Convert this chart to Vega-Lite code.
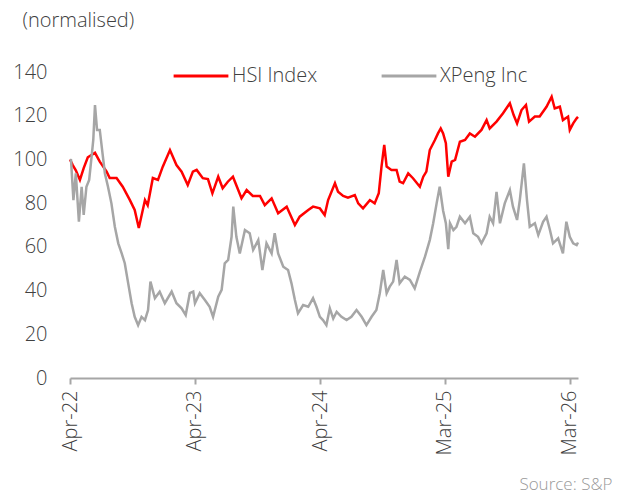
{
  "$schema": "https://vega.github.io/schema/vega-lite/v6.json",
  "width": 508,
  "height": 306,
  "autosize": {"type": "none"},
  "padding": {"left": 70, "top": 72, "right": 49, "bottom": 116},
  "background": "white",
  "config": {
    "font": "Open Sans",
    "view": {"stroke": null},
    "axis": {"labelFont": "Open Sans", "titleFont": "Open Sans", "labelColor": "#404040", "grid": false, "labelFontWeight": 300, "titleFontWeight": 300},
    "legend": {"labelFont": "Open Sans", "labelFontWeight": 300}
  },
  "data": {"values": [
    {"d":"2022-04-01","s":"HSI Index","v":100},{"d":"2022-04-09","s":"HSI Index","v":97.4},{"d":"2022-04-18","s":"HSI Index","v":95},{"d":"2022-04-30","s":"HSI Index","v":90.6},{"d":"2022-05-11","s":"HSI Index","v":96},{"d":"2022-05-23","s":"HSI Index","v":101},{"d":"2022-06-13","s":"HSI Index","v":103},{"d":"2022-06-27","s":"HSI Index","v":99},{"d":"2022-07-17","s":"HSI Index","v":94.4},{"d":"2022-07-26","s":"HSI Index","v":91.5},{"d":"2022-08-15","s":"HSI Index","v":91.5},{"d":"2022-09-02","s":"HSI Index","v":87.5},{"d":"2022-09-23","s":"HSI Index","v":81.4},{"d":"2022-10-07","s":"HSI Index","v":76.9},{"d":"2022-10-19","s":"HSI Index","v":68.6},{"d":"2022-11-06","s":"HSI Index","v":81.4},{"d":"2022-11-14","s":"HSI Index","v":79},{"d":"2022-11-29","s":"HSI Index","v":91.5},{"d":"2022-12-14","s":"HSI Index","v":90.6},{"d":"2022-12-28","s":"HSI Index","v":96.7},{"d":"2023-01-18","s":"HSI Index","v":104.3},{"d":"2023-02-06","s":"HSI Index","v":97.4},{"d":"2023-02-21","s":"HSI Index","v":94.4},{"d":"2023-03-11","s":"HSI Index","v":88.3},{"d":"2023-03-26","s":"HSI Index","v":94.4},{"d":"2023-04-06","s":"HSI Index","v":95.2},{"d":"2023-04-24","s":"HSI Index","v":91.4},{"d":"2023-05-09","s":"HSI Index","v":91},{"d":"2023-05-22","s":"HSI Index","v":84.5},{"d":"2023-06-08","s":"HSI Index","v":92.1},{"d":"2023-06-21","s":"HSI Index","v":86.8},{"d":"2023-07-06","s":"HSI Index","v":89.8},{"d":"2023-07-21","s":"HSI Index","v":92.1},{"d":"2023-08-15","s":"HSI Index","v":82.2},{"d":"2023-08-30","s":"HSI Index","v":86},{"d":"2023-09-17","s":"HSI Index","v":83.3},{"d":"2023-10-08","s":"HSI Index","v":83.3},{"d":"2023-10-22","s":"HSI Index","v":79.1},{"d":"2023-11-11","s":"HSI Index","v":82.2},{"d":"2023-11-30","s":"HSI Index","v":75.4},{"d":"2023-12-25","s":"HSI Index","v":78.4},{"d":"2024-01-18","s":"HSI Index","v":70},{"d":"2024-02-01","s":"HSI Index","v":73.8},{"d":"2024-02-26","s":"HSI Index","v":76.9},{"d":"2024-03-11","s":"HSI Index","v":78.4},{"d":"2024-03-31","s":"HSI Index","v":77.6},{"d":"2024-04-14","s":"HSI Index","v":74.6},{"d":"2024-04-24","s":"HSI Index","v":81.4},{"d":"2024-05-14","s":"HSI Index","v":89.1},{"d":"2024-05-23","s":"HSI Index","v":85.2},{"d":"2024-06-07","s":"HSI Index","v":83.3},{"d":"2024-06-21","s":"HSI Index","v":82.5},{"d":"2024-07-11","s":"HSI Index","v":83.7},{"d":"2024-07-21","s":"HSI Index","v":79.9},{"d":"2024-08-04","s":"HSI Index","v":77.6},{"d":"2024-08-24","s":"HSI Index","v":81.4},{"d":"2024-09-07","s":"HSI Index","v":79.9},{"d":"2024-09-19","s":"HSI Index","v":84.5},{"d":"2024-09-27","s":"HSI Index","v":96.7},{"d":"2024-10-05","s":"HSI Index","v":106.6},{"d":"2024-10-12","s":"HSI Index","v":96.7},{"d":"2024-10-26","s":"HSI Index","v":95.2},{"d":"2024-11-10","s":"HSI Index","v":95.2},{"d":"2024-11-19","s":"HSI Index","v":89.8},{"d":"2024-11-29","s":"HSI Index","v":89.1},{"d":"2024-12-14","s":"HSI Index","v":93.6},{"d":"2024-12-28","s":"HSI Index","v":91.4},{"d":"2025-01-17","s":"HSI Index","v":87.5},{"d":"2025-01-27","s":"HSI Index","v":92.1},{"d":"2025-02-05","s":"HSI Index","v":94.4},{"d":"2025-02-15","s":"HSI Index","v":104.3},{"d":"2025-03-02","s":"HSI Index","v":108.9},{"d":"2025-03-11","s":"HSI Index","v":111.9},{"d":"2025-03-19","s":"HSI Index","v":114.2},{"d":"2025-03-26","s":"HSI Index","v":111.9},{"d":"2025-04-03","s":"HSI Index","v":107.4},{"d":"2025-04-10","s":"HSI Index","v":92.1},{"d":"2025-04-20","s":"HSI Index","v":99},{"d":"2025-04-30","s":"HSI Index","v":99.8},{"d":"2025-05-14","s":"HSI Index","v":108.1},{"d":"2025-05-29","s":"HSI Index","v":108.9},{"d":"2025-06-12","s":"HSI Index","v":111.9},{"d":"2025-06-27","s":"HSI Index","v":110.4},{"d":"2025-07-16","s":"HSI Index","v":113.5},{"d":"2025-07-31","s":"HSI Index","v":118},{"d":"2025-08-09","s":"HSI Index","v":114.2},{"d":"2025-08-29","s":"HSI Index","v":117.3},{"d":"2025-09-17","s":"HSI Index","v":121.1},{"d":"2025-10-07","s":"HSI Index","v":125.7},{"d":"2025-10-18","s":"HSI Index","v":120.3},{"d":"2025-10-28","s":"HSI Index","v":116.5},{"d":"2025-11-10","s":"HSI Index","v":122.6},{"d":"2025-11-23","s":"HSI Index","v":124.9},{"d":"2025-12-02","s":"HSI Index","v":117.3},{"d":"2025-12-19","s":"HSI Index","v":119.6},{"d":"2026-01-02","s":"HSI Index","v":119.6},{"d":"2026-01-22","s":"HSI Index","v":124.1},{"d":"2026-02-06","s":"HSI Index","v":128.7},{"d":"2026-02-15","s":"HSI Index","v":123.3},{"d":"2026-03-02","s":"HSI Index","v":124.1},{"d":"2026-03-11","s":"HSI Index","v":118},{"d":"2026-03-26","s":"HSI Index","v":119.6},{"d":"2026-03-31","s":"HSI Index","v":113.5},{"d":"2026-04-10","s":"HSI Index","v":116.5},{"d":"2026-04-20","s":"HSI Index","v":118.8},{"d":"2026-04-24","s":"HSI Index","v":119.5},
    {"d":"2022-04-01","s":"XPeng Inc","v":100},{"d":"2022-04-04","s":"XPeng Inc","v":99.7},{"d":"2022-04-11","s":"XPeng Inc","v":81.4},{"d":"2022-04-18","s":"XPeng Inc","v":93.6},{"d":"2022-04-27","s":"XPeng Inc","v":71.5},{"d":"2022-05-05","s":"XPeng Inc","v":87.5},{"d":"2022-05-11","s":"XPeng Inc","v":74.6},{"d":"2022-05-19","s":"XPeng Inc","v":87.5},{"d":"2022-05-27","s":"XPeng Inc","v":90.6},{"d":"2022-06-03","s":"XPeng Inc","v":101.2},{"d":"2022-06-08","s":"XPeng Inc","v":108.9},{"d":"2022-06-13","s":"XPeng Inc","v":124.9},{"d":"2022-06-19","s":"XPeng Inc","v":113.5},{"d":"2022-06-27","s":"XPeng Inc","v":113.5},{"d":"2022-07-05","s":"XPeng Inc","v":102.8},{"d":"2022-07-12","s":"XPeng Inc","v":93.6},{"d":"2022-07-21","s":"XPeng Inc","v":87.5},{"d":"2022-07-31","s":"XPeng Inc","v":79.9},{"d":"2022-08-10","s":"XPeng Inc","v":69.2},{"d":"2022-08-20","s":"XPeng Inc","v":61.6},{"d":"2022-08-30","s":"XPeng Inc","v":57},{"d":"2022-09-08","s":"XPeng Inc","v":52.5},{"d":"2022-09-18","s":"XPeng Inc","v":43.3},{"d":"2022-09-28","s":"XPeng Inc","v":34.2},{"d":"2022-10-07","s":"XPeng Inc","v":28},{"d":"2022-10-17","s":"XPeng Inc","v":24.2},{"d":"2022-10-27","s":"XPeng Inc","v":28},{"d":"2022-11-06","s":"XPeng Inc","v":26.5},{"d":"2022-11-15","s":"XPeng Inc","v":31.1},{"d":"2022-11-22","s":"XPeng Inc","v":44.1},{"d":"2022-12-05","s":"XPeng Inc","v":36.5},{"d":"2022-12-19","s":"XPeng Inc","v":39.5},{"d":"2023-01-03","s":"XPeng Inc","v":34.2},{"d":"2023-01-23","s":"XPeng Inc","v":39.5},{"d":"2023-02-06","s":"XPeng Inc","v":34.2},{"d":"2023-02-21","s":"XPeng Inc","v":31.9},{"d":"2023-03-05","s":"XPeng Inc","v":28.8},{"d":"2023-03-17","s":"XPeng Inc","v":38.8},{"d":"2023-03-27","s":"XPeng Inc","v":39.5},{"d":"2023-04-01","s":"XPeng Inc","v":34.2},{"d":"2023-04-15","s":"XPeng Inc","v":38.8},{"d":"2023-04-30","s":"XPeng Inc","v":35.7},{"d":"2023-05-14","s":"XPeng Inc","v":32.6},{"d":"2023-05-24","s":"XPeng Inc","v":28},{"d":"2023-06-08","s":"XPeng Inc","v":37.2},{"d":"2023-06-18","s":"XPeng Inc","v":40.3},{"d":"2023-06-27","s":"XPeng Inc","v":52.5},{"d":"2023-07-07","s":"XPeng Inc","v":54},{"d":"2023-07-17","s":"XPeng Inc","v":64.6},{"d":"2023-07-22","s":"XPeng Inc","v":78.4},{"d":"2023-07-31","s":"XPeng Inc","v":64.6},{"d":"2023-08-10","s":"XPeng Inc","v":57},{"d":"2023-08-25","s":"XPeng Inc","v":67.7},{"d":"2023-09-08","s":"XPeng Inc","v":66.2},{"d":"2023-09-18","s":"XPeng Inc","v":58.6},{"d":"2023-10-03","s":"XPeng Inc","v":63.1},{"d":"2023-10-15","s":"XPeng Inc","v":49.4},{"d":"2023-10-27","s":"XPeng Inc","v":61.6},{"d":"2023-11-11","s":"XPeng Inc","v":57},{"d":"2023-11-20","s":"XPeng Inc","v":66.2},{"d":"2023-11-30","s":"XPeng Inc","v":57},{"d":"2023-12-15","s":"XPeng Inc","v":50.9},{"d":"2023-12-29","s":"XPeng Inc","v":49.4},{"d":"2024-01-08","s":"XPeng Inc","v":43.3},{"d":"2024-01-18","s":"XPeng Inc","v":35.7},{"d":"2024-01-27","s":"XPeng Inc","v":29.6},{"d":"2024-02-11","s":"XPeng Inc","v":33.4},{"d":"2024-02-26","s":"XPeng Inc","v":32.6},{"d":"2024-03-11","s":"XPeng Inc","v":36.5},{"d":"2024-03-21","s":"XPeng Inc","v":32.6},{"d":"2024-03-31","s":"XPeng Inc","v":28},{"d":"2024-04-09","s":"XPeng Inc","v":26.5},{"d":"2024-04-19","s":"XPeng Inc","v":24.2},{"d":"2024-04-29","s":"XPeng Inc","v":31.9},{"d":"2024-05-09","s":"XPeng Inc","v":27.2},{"d":"2024-05-19","s":"XPeng Inc","v":30.3},{"d":"2024-06-02","s":"XPeng Inc","v":28},{"d":"2024-06-17","s":"XPeng Inc","v":26.5},{"d":"2024-07-01","s":"XPeng Inc","v":28},{"d":"2024-07-16","s":"XPeng Inc","v":31.1},{"d":"2024-07-31","s":"XPeng Inc","v":28},{"d":"2024-08-14","s":"XPeng Inc","v":24.2},{"d":"2024-08-29","s":"XPeng Inc","v":28},{"d":"2024-09-12","s":"XPeng Inc","v":31.1},{"d":"2024-09-22","s":"XPeng Inc","v":38.8},{"d":"2024-10-02","s":"XPeng Inc","v":49.4},{"d":"2024-10-12","s":"XPeng Inc","v":38.8},{"d":"2024-10-21","s":"XPeng Inc","v":41.8},{"d":"2024-10-31","s":"XPeng Inc","v":44.1},{"d":"2024-11-10","s":"XPeng Inc","v":54},{"d":"2024-11-19","s":"XPeng Inc","v":43.3},{"d":"2024-12-04","s":"XPeng Inc","v":46.4},{"d":"2024-12-19","s":"XPeng Inc","v":44.9},{"d":"2025-01-02","s":"XPeng Inc","v":41},{"d":"2025-01-17","s":"XPeng Inc","v":48.6},{"d":"2025-02-01","s":"XPeng Inc","v":55.5},{"d":"2025-02-15","s":"XPeng Inc","v":63.1},{"d":"2025-02-25","s":"XPeng Inc","v":70.8},{"d":"2025-03-07","s":"XPeng Inc","v":79.9},{"d":"2025-03-16","s":"XPeng Inc","v":87.5},{"d":"2025-03-26","s":"XPeng Inc","v":76.5},{"d":"2025-04-03","s":"XPeng Inc","v":70.8},{"d":"2025-04-10","s":"XPeng Inc","v":59},{"d":"2025-04-15","s":"XPeng Inc","v":70.8},{"d":"2025-04-25","s":"XPeng Inc","v":67.7},{"d":"2025-05-04","s":"XPeng Inc","v":69.2},{"d":"2025-05-14","s":"XPeng Inc","v":73.8},{"d":"2025-05-29","s":"XPeng Inc","v":70.8},{"d":"2025-06-12","s":"XPeng Inc","v":73.8},{"d":"2025-06-22","s":"XPeng Inc","v":66.2},{"d":"2025-07-06","s":"XPeng Inc","v":64.6},{"d":"2025-07-16","s":"XPeng Inc","v":61.6},{"d":"2025-07-31","s":"XPeng Inc","v":66.2},{"d":"2025-08-09","s":"XPeng Inc","v":73.8},{"d":"2025-08-19","s":"XPeng Inc","v":70.8},{"d":"2025-08-29","s":"XPeng Inc","v":85.2},{"d":"2025-09-08","s":"XPeng Inc","v":70.8},{"d":"2025-09-22","s":"XPeng Inc","v":79.9},{"d":"2025-10-07","s":"XPeng Inc","v":86},{"d":"2025-10-16","s":"XPeng Inc","v":78.4},{"d":"2025-10-28","s":"XPeng Inc","v":72.3},{"d":"2025-11-05","s":"XPeng Inc","v":81.4},{"d":"2025-11-17","s":"XPeng Inc","v":98.2},{"d":"2025-11-26","s":"XPeng Inc","v":81.4},{"d":"2025-12-04","s":"XPeng Inc","v":69.2},{"d":"2025-12-19","s":"XPeng Inc","v":70.8},{"d":"2025-12-29","s":"XPeng Inc","v":65.4},{"d":"2026-01-12","s":"XPeng Inc","v":71.5},{"d":"2026-01-22","s":"XPeng Inc","v":73.8},{"d":"2026-02-01","s":"XPeng Inc","v":67.7},{"d":"2026-02-10","s":"XPeng Inc","v":61.6},{"d":"2026-02-25","s":"XPeng Inc","v":63.9},{"d":"2026-03-11","s":"XPeng Inc","v":57},{"d":"2026-03-21","s":"XPeng Inc","v":71.5},{"d":"2026-03-31","s":"XPeng Inc","v":64.6},{"d":"2026-04-10","s":"XPeng Inc","v":61.6},{"d":"2026-04-20","s":"XPeng Inc","v":60.8},{"d":"2026-04-24","s":"XPeng Inc","v":62}
  ]},
  "mark": {"type": "line", "strokeWidth": 2.5, "interpolate": "linear"},
  "encoding": {
    "x": {
      "field": "d", "type": "temporal",
      "scale": {"type": "utc", "domain": [{"year": 2022, "month": 4, "date": 1, "utc": true}, {"year": 2026, "month": 4, "date": 24, "utc": true}], "nice": false},
      "axis": {
        "values": [{"year": 2022, "month": 4, "date": 1, "utc": true}, {"year": 2023, "month": 4, "date": 1, "utc": true}, {"year": 2024, "month": 4, "date": 1, "utc": true}, {"year": 2025, "month": 3, "date": 31, "utc": true}, {"year": 2026, "month": 3, "date": 31, "utc": true}],
        "labelExpr": "utcFormat(datum.value, '%b-%y')",
        "labelAngle": -90, "labelAlign": "right", "labelBaseline": "middle",
        "labelFontSize": 20, "labelPadding": 6,
        "domainColor": "#a6a6a6", "domainWidth": 2,
        "tickColor": "#a6a6a6", "tickWidth": 2, "tickSize": 6,
        "title": "Source: S&P", "titleFontSize": 17, "titleColor": "#999999",
        "titleAnchor": "end", "titleAlign": "right", "titleBaseline": "middle", "titleX": 542, "titleY": 106, "titleAngle": 0
      }
    },
    "y": {
      "field": "v", "type": "quantitative",
      "scale": {"domain": [0, 140], "nice": false, "zero": true},
      "axis": {
        "values": [0, 20, 40, 60, 80, 100, 120, 140],
        "domain": false, "ticks": false, "labelFontSize": 20, "labelPadding": 23,
        "title": "(normalised)", "titleAngle": 0, "titleFontSize": 20, "titleColor": "#404040",
        "titleAlign": "left", "titleBaseline": "middle", "titleX": -48, "titleY": -52
      }
    },
    "color": {
      "field": "s", "type": "nominal",
      "scale": {"domain": ["HSI Index", "XPeng Inc"], "range": ["#ff0000", "#a6a6a6"]},
      "legend": {
        "title": null, "orient": "none", "direction": "horizontal",
        "legendX": 102, "legendY": -25,
        "symbolType": "stroke", "symbolSize": 3000, "symbolStrokeWidth": 3,
        "labelFontSize": 20, "labelColor": "#404040", "labelOffset": 2,
        "columnPadding": 57
      }
    }
  }
}
